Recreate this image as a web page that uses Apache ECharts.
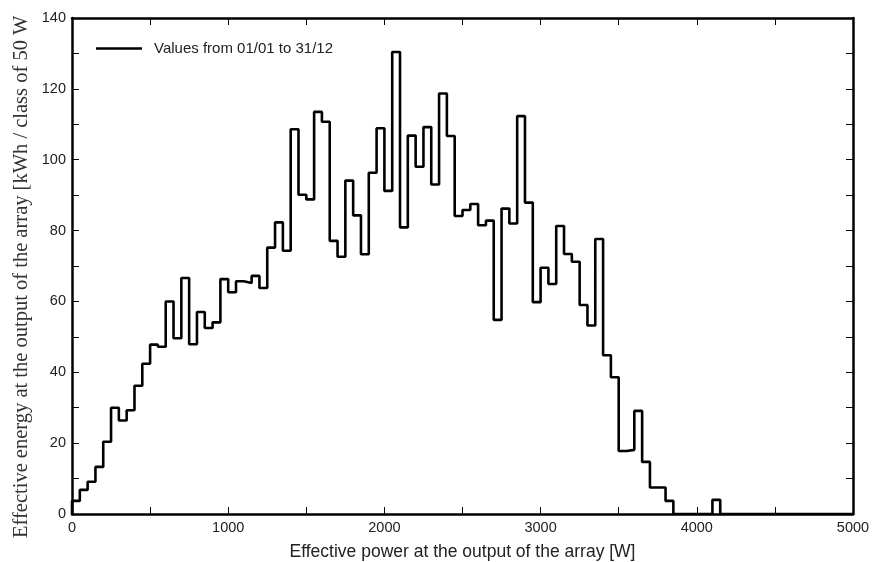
<!DOCTYPE html>
<html>
<head>
<meta charset="utf-8">
<script src="https://cdn.jsdelivr.net/npm/echarts@6/dist/echarts.min.js"></script>
<style>html,body{margin:0;padding:0;background:#fff;}#c{width:873px;height:562px;}</style>
</head>
<body>
<div id="c"></div>
<script>
// Bin width in W (classes of 50 W)
const binWidth = 50;
// Effective energy per 50 W class [kWh], bins starting at 0 W
const energy = [
  3.7, 6.8, 9.1, 13.3, 20.4, 30.0, 26.4, 29.3, 36.2, 42.4,
  47.8, 47.2, 60.0, 49.6, 66.6, 47.9, 57.0, 52.5, 54.1, 66.3,
  62.6, 65.7, 65.2, 67.2, 63.8, 75.2, 82.3, 74.3, 108.6, 90.1,
  88.8, 113.5, 110.7, 77.1, 72.6, 94.1, 84.3, 73.3, 96.3, 108.9,
  91.2, 130.4, 80.9, 106.8, 98.0, 109.2, 93.0, 118.7, 106.7, 84.1,
  85.8, 87.5, 81.5, 82.8, 54.8, 86.2, 82.0, 112.3, 87.9, 59.8,
  69.5, 64.9, 81.3, 73.4, 71.2, 59.0, 53.2, 77.6, 44.8, 38.6,
  17.8, 18.1, 29.1, 14.7, 7.5, 7.5, 3.7, 0, 0, 0,
  0, 0, 4.0, 0
];
const xTickLabels = [0, 1000, 2000, 3000, 4000, 5000];
const yTickLabels = [0, 20, 40, 60, 80, 100, 120, 140];
const seriesName = 'Values from 01/01 to 31/12';
const xTitle = 'Effective power at the output of the array [W]';
const yTitle = 'Effective energy at the output of the array [kWh / class of 50 W';

const data = [[0, 0]].concat(energy.map((v, i) => [i * binWidth, v])).concat([[5000, 0]]);

const chart = echarts.init(document.getElementById('c'), null, {renderer: 'canvas'});
const axisLineStyle = {color: '#000', width: 2.5};
const tickStyle = {color: '#000', width: 1};
const sans = 'Liberation Sans, Arial, sans-serif';
const labelFont = {fontFamily: sans, fontSize: 14.5, color: '#222'};

chart.setOption({
  animation: false,
  backgroundColor: '#fff',
  grid: {left: 72, right: 20, top: 18, bottom: 48, containLabel: false, outerBoundsMode: 'none'},
  legend: {
    show: true,
    left: 91, top: 36,
    data: [{name: seriesName, icon: 'rect'}],
    itemWidth: 46, itemHeight: 2.5,
    textStyle: {fontFamily: sans, fontSize: 15, color: '#222', padding: [0, 0, 0, 7]}
  },
  xAxis: [{
    type: 'value', min: 0, max: 5000, interval: 500, position: 'bottom',
    axisLine: {show: true, onZero: false, lineStyle: axisLineStyle},
    axisTick: {show: true, inside: true, length: 7, lineStyle: tickStyle},
    axisLabel: Object.assign({margin: 6, formatter: v => xTickLabels.indexOf(v) >= 0 ? String(v) : ''}, labelFont),
    splitLine: {show: false},
    name: xTitle, nameLocation: 'middle', nameGap: 29,
    nameTextStyle: {fontFamily: sans, fontSize: 17.5, color: '#222'}
  }, {
    type: 'value', min: 0, max: 5000, interval: 500, position: 'top',
    axisLine: {show: true, onZero: false, lineStyle: axisLineStyle},
    axisTick: {show: true, inside: true, length: 7, lineStyle: tickStyle},
    axisLabel: {show: false}, splitLine: {show: false}
  }],
  yAxis: [{
    type: 'value', min: 0, max: 140, interval: 10, position: 'left',
    axisLine: {show: true, onZero: false, lineStyle: axisLineStyle},
    axisTick: {show: true, inside: true, length: 7, lineStyle: tickStyle},
    axisLabel: Object.assign({margin: 6, formatter: v => yTickLabels.indexOf(v) >= 0 ? String(v) : ''}, labelFont),
    splitLine: {show: false}
  }, {
    type: 'value', min: 0, max: 140, interval: 10, position: 'right',
    axisLine: {show: true, onZero: false, lineStyle: axisLineStyle},
    axisTick: {show: true, inside: true, length: 7, lineStyle: tickStyle},
    axisLabel: {show: false}, splitLine: {show: false}
  }],
  graphic: [{
    type: 'text',
    x: 22, y: 538,
    rotation: Math.PI / 2,
    style: {
      text: yTitle,
      fontFamily: 'Liberation Serif, Times New Roman, serif',
      fontSize: 20.5,
      fill: '#333',
      align: 'left',
      verticalAlign: 'middle'
    }
  }],
  series: [{
    name: seriesName,
    type: 'line',
    step: 'end',
    data: data,
    showSymbol: false,
    symbol: 'none',
    lineStyle: {color: '#000', width: 2.6},
    itemStyle: {color: '#000'},
    z: 3
  }]
});
</script>
</body>
</html>
